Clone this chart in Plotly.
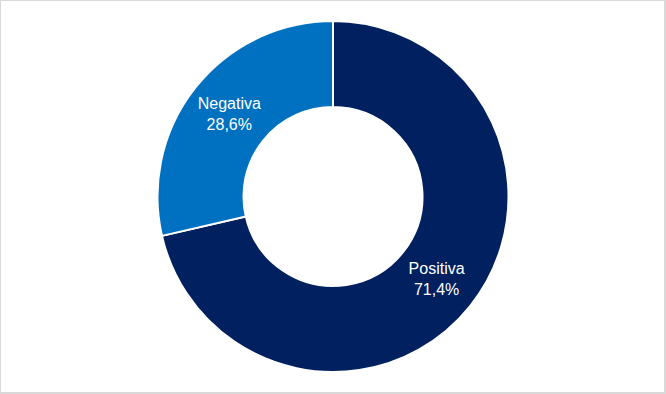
import plotly.graph_objects as go

# Sentiment split
categories = ["Positiva", "Negativa"]
shares = [71.4, 28.6]
colors = ["#002060", "#0070C0"]

W, H = 666, 394
top, bottom = 21, 22
plot_h = H - top - bottom

fig = go.Figure(
    go.Pie(
        labels=categories,
        values=shares,
        hole=0.51,
        sort=False,
        direction="clockwise",
        rotation=0,
        marker=dict(colors=colors, line=dict(color="white", width=2)),
        texttemplate="%{label}<br>%{value:.1f}%",
        textposition="inside",
        insidetextorientation="horizontal",
        textfont=dict(family="Liberation Sans, Arial, sans-serif", size=16, color="white"),
        hoverinfo="label+percent",
        showlegend=False,
    )
)

def px_to_paper_y(py):
    return (H - bottom - py) / plot_h

# Light frame around the chart area
fig.add_shape(
    type="rect",
    xref="paper", yref="paper",
    x0=0, x1=(W - 1) / W,
    y0=px_to_paper_y(H - 1), y1=px_to_paper_y(0),
    line=dict(color="#d9d9d9", width=2),
    fillcolor="rgba(0,0,0,0)",
    layer="above",
)

fig.update_layout(
    width=W,
    height=H,
    margin=dict(l=0, r=0, t=top, b=bottom),
    paper_bgcolor="white",
    plot_bgcolor="white",
    separators=",.",
)

fig.write_html("out.html")
